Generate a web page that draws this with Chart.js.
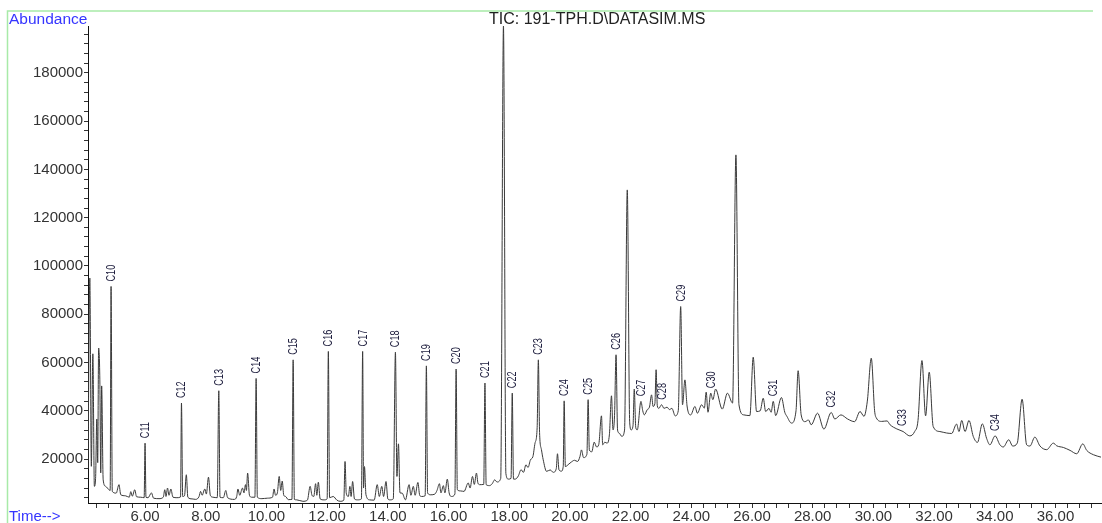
<!DOCTYPE html>
<html>
<head>
<meta charset="utf-8">
<script src="https://cdn.jsdelivr.net/npm/chart.js@4.4.1/dist/chart.umd.min.js"></script>
<style>
  html, body { margin: 0; padding: 0; background: #fff; }
  #wrap { width: 1102px; height: 523px; position: relative; }
</style>
</head>
<body>
<div id="wrap"><canvas id="ticChart"></canvas></div>
<script>
// TIC trace (time in min, abundance)
const retentionTime = [
  4.12, 4.18, 4.23, 4.28, 4.33, 4.37, 4.41, 4.44, 4.47, 4.51,
  4.54, 4.57, 4.62, 4.70, 4.81, 4.85, 4.88, 4.92, 5.05, 5.14,
  5.20, 5.35, 5.48, 5.53, 5.58, 5.66, 5.72, 5.86, 5.97, 6.00,
  6.03, 6.10, 6.21, 6.28, 6.46, 6.60, 6.65, 6.69, 6.74, 6.79,
  6.85, 6.92, 7.05, 7.17, 7.20, 7.24, 7.30, 7.36, 7.41, 7.55,
  7.67, 7.78, 7.83, 7.88, 7.97, 8.02, 8.09, 8.15, 8.24, 8.38,
  8.43, 8.47, 8.58, 8.66, 8.72, 8.94, 9.02, 9.06, 9.12, 9.21,
  9.26, 9.31, 9.34, 9.38, 9.44, 9.51, 9.62, 9.66, 9.70, 9.85,
  10.03, 10.20, 10.25, 10.30, 10.36, 10.42, 10.47, 10.52, 10.57, 10.63,
  10.72, 10.84, 10.88, 10.92, 11.00, 11.20, 11.35, 11.44, 11.50, 11.56,
  11.62, 11.66, 11.71, 11.77, 11.90, 12.00, 12.04, 12.08, 12.20, 12.32,
  12.43, 12.55, 12.59, 12.63, 12.70, 12.75, 12.79, 12.84, 12.90, 13.00,
  13.13, 13.17, 13.20, 13.23, 13.28, 13.40, 13.55, 13.65, 13.72, 13.80,
  13.86, 13.94, 14.00, 14.07, 14.18, 14.25, 14.30, 14.35, 14.40, 14.47,
  14.58, 14.70, 14.76, 14.84, 14.90, 14.99, 15.05, 15.11, 15.23, 15.27,
  15.31, 15.42, 15.55, 15.62, 15.70, 15.75, 15.83, 15.88, 15.96, 16.02,
  16.10, 16.21, 16.25, 16.29, 16.40, 16.51, 16.65, 16.71, 16.79, 16.85,
  16.92, 16.97, 17.03, 17.16, 17.20, 17.24, 17.35, 17.44, 17.52, 17.60,
  17.72, 17.81, 17.89, 17.97, 18.06, 18.10, 18.14, 18.20, 18.30, 18.39,
  18.47, 18.55, 18.62, 18.70, 18.78, 18.85, 18.92, 18.96, 19.00, 19.06,
  19.12, 19.23, 19.35, 19.45, 19.55, 19.59, 19.64, 19.72, 19.78, 19.81,
  19.85, 19.97, 20.05, 20.15, 20.25, 20.33, 20.38, 20.45, 20.56, 20.60,
  20.64, 20.72, 20.80, 20.88, 20.95, 21.04, 21.08, 21.15, 21.22, 21.30,
  21.37, 21.42, 21.47, 21.52, 21.57, 21.62, 21.71, 21.80, 21.89, 21.97,
  22.02, 22.08, 22.12, 22.17, 22.22, 22.34, 22.40, 22.45, 22.55, 22.62,
  22.69, 22.74, 22.80, 22.84, 22.88, 22.93, 23.02, 23.10, 23.20, 23.28,
  23.36, 23.47, 23.57, 23.65, 23.71, 23.79, 23.86, 23.98, 24.12, 24.20,
  24.34, 24.43, 24.49, 24.55, 24.64, 24.71, 24.80, 25.02, 25.19, 25.36,
  25.47, 25.57, 25.73, 25.93, 26.04, 26.15, 26.27, 26.37, 26.45, 26.56,
  26.63, 26.70, 26.78, 26.97, 27.08, 27.15, 27.30, 27.45, 27.52, 27.62,
  27.75, 27.86, 27.95, 28.16, 28.37, 28.61, 28.73, 28.93, 29.15, 29.38,
  29.56, 29.69, 29.80, 29.93, 30.04, 30.10, 30.27, 30.45, 30.55, 30.77,
  30.98, 31.20, 31.36, 31.47, 31.60, 31.72, 31.84, 31.97, 32.19, 32.41,
  32.58, 32.74, 32.82, 32.91, 33.02, 33.15, 33.29, 33.43, 33.59, 33.73,
  33.84, 34.01, 34.17, 34.28, 34.46, 34.59, 34.74, 34.90, 35.05, 35.16,
  35.32, 35.49, 35.71, 35.93, 36.04, 36.26, 36.48, 36.70, 36.90, 37.03,
  37.25, 37.50
];
const abundance = [
  16000, 95000, 17000, 63600, 8700, 12000, 36600, 18500, 66000, 52800,
  14300, 50300, 11400, 8700, 7300, 7000, 91500, 6600, 5900, 9400,
  5200, 4800, 4200, 6500, 4600, 7300, 4400, 4200, 4000, 26600,
  4200, 4000, 6000, 3800, 3600, 4200, 7300, 4500, 8000, 5000,
  7600, 4200, 4000, 4300, 43200, 4500, 4800, 13500, 4200, 3500,
  3300, 4500, 6600, 5000, 7600, 5500, 12500, 5000, 4200, 4000,
  48300, 4200, 4000, 7000, 4000, 3300, 4500, 7600, 5000, 8000,
  6000, 9400, 7000, 14200, 5000, 4200, 4200, 53400, 4200, 3600,
  3800, 4200, 7600, 5000, 6000, 12800, 7000, 10900, 5000, 4500,
  3200, 3300, 61100, 3300, 3100, 2500, 3000, 8700, 5000, 4500,
  9800, 5000, 10400, 3500, 3100, 3500, 64600, 4000, 4500, 3000,
  2500, 3000, 19000, 5900, 4500, 8700, 4500, 10700, 3500, 3100,
  3500, 64600, 8000, 16900, 5200, 3100, 3000, 9400, 4500, 8700,
  4500, 10700, 3500, 3100, 3500, 64300, 12800, 26300, 6000, 5900,
  3100, 9400, 5000, 8700, 5000, 10300, 5000, 4500, 4800, 58600,
  5900, 5200, 5500, 7000, 9800, 6000, 9000, 6000, 11700, 6000,
  4500, 5500, 57300, 7300, 6800, 6600, 10100, 8000, 12800, 9500,
  14200, 10000, 9400, 9500, 51500, 9400, 9000, 9800, 11400, 10500,
  12000, 199400, 14000, 11700, 12000, 47300, 11700, 11700, 13000, 15600,
  14500, 17600, 16500, 19700, 21000, 26600, 33000, 61100, 31000, 24000,
  19700, 14900, 15500, 14500, 16000, 22200, 15500, 15000, 17000, 44100,
  16900, 18000, 18800, 19500, 19000, 21000, 23800, 20600, 22000, 44600,
  23800, 23000, 27000, 25000, 26000, 37900, 25900, 27000, 26600, 30000,
  46200, 32100, 38000, 63200, 32000, 30800, 29400, 32000, 131500, 35000,
  32100, 34000, 49000, 33000, 32100, 43900, 40000, 38300, 40500, 41500,
  46600, 41800, 43000, 57000, 42000, 41000, 42500, 41000, 41500, 40500,
  41000, 37900, 40000, 83200, 42500, 52800, 42000, 38300, 41800, 39000,
  42500, 41100, 47700, 39400, 47300, 44600, 49000, 40700, 47300, 43200,
  146000, 42500, 38300, 38000, 62200, 39700, 40000, 45200, 39700, 41000,
  39400, 43900, 38000, 45500, 39400, 37700, 34900, 40000, 56600, 38300,
  35500, 36200, 34200, 39000, 32400, 39300, 36600, 38300, 36600, 35500,
  39700, 37700, 44000, 61800, 40000, 37000, 35600, 35800, 34200, 32500,
  31400, 29600, 31400, 36000, 60800, 37900, 56000, 33500, 31400, 30800,
  30600, 34500, 31400, 36000, 31400, 36000, 29400, 26900, 34600, 28600,
  25900, 29600, 25900, 25000, 28000, 25400, 26600, 44800, 25900, 25400,
  29100, 25400, 23900, 26600, 25500, 24800, 23600, 22200, 26300, 23600,
  21800, 20800
];

// n-alkane labels and where they sit
const peakNames = ['C10', 'C11', 'C12', 'C13', 'C14', 'C15', 'C16', 'C17', 'C18', 'C19', 'C20', 'C21', 'C22',
  'C23', 'C24', 'C25', 'C26', 'C27', 'C28', 'C29', 'C30', 'C31', 'C32', 'C33', 'C34'];
const peakTimes = [4.88, 6.00, 7.20, 8.43, 9.66, 10.88, 12.04, 13.17, 14.25, 15.27, 16.25, 17.20, 18.10,
  18.96, 19.81, 20.60, 21.52, 22.34, 23.02, 23.65, 24.64, 26.70, 28.61, 30.93, 34.01];

// axis labels
const timeTickLabels = [6, 8, 10, 12, 14, 16, 18, 20, 22, 24, 26, 28, 30, 32, 34, 36];
const abundanceTickLabels = [20000, 40000, 60000, 80000, 100000, 120000, 140000, 160000, 180000];

const FONT = '"Liberation Sans", Arial, sans-serif';

function abundanceAt(t) {
  for (let i = 0; i < retentionTime.length - 1; i++) {
    const a = retentionTime[i], b = retentionTime[i + 1];
    if (t >= a && t <= b) {
      const f = (t - a) / (b - a);
      return abundance[i] + f * (abundance[i + 1] - abundance[i]);
    }
  }
  return abundance[abundance.length - 1];
}

const decorPlugin = {
  id: 'decor',
  beforeDraw(chart) {
    const ctx = chart.ctx;
    ctx.save();
    ctx.fillStyle = '#fff';
    ctx.fillRect(0, 0, chart.width, chart.height);
    // light green frame (top + left)
    ctx.strokeStyle = '#a8eaa8';
    ctx.lineWidth = 1.5;
    ctx.beginPath();
    ctx.moveTo(7.5, chart.height);
    ctx.lineTo(7.5, 11);
    ctx.lineTo(1093, 11);
    ctx.stroke();
    ctx.restore();
  },
  afterDraw(chart) {
    const ctx = chart.ctx;
    const xs = chart.scales.x, ys = chart.scales.y;
    ctx.save();
    ctx.textBaseline = 'alphabetic';
    ctx.textAlign = 'left';
    ctx.fillStyle = '#3535ff';
    ctx.font = '15.5px ' + FONT;
    ctx.fillText('Abundance', 9, 23.5);
    ctx.font = '15px ' + FONT;
    ctx.fillText('Time-->', 9, 521);
    ctx.fillStyle = '#222';
    ctx.font = '16px ' + FONT;
    ctx.fillText('TIC: 191-TPH.D\\DATASIM.MS', 489, 24);

    // rotated peak labels
    ctx.fillStyle = '#1c1c3c';
    ctx.font = '12.5px ' + FONT;
    ctx.textBaseline = 'middle';
    peakNames.forEach((name, i) => {
      const t = peakTimes[i];
      const px = xs.getPixelForValue(t);
      const py = ys.getPixelForValue(abundanceAt(t)) - 5;
      ctx.save();
      ctx.translate(px, py);
      ctx.rotate(-Math.PI / 2);
      ctx.scale(0.73, 1);
      ctx.fillText(name, 0, 0.5);
      ctx.restore();
    });
    ctx.restore();
  }
};

const ctx = document.getElementById('ticChart').getContext('2d');
new Chart(ctx, {
  type: 'line',
  data: {
    datasets: [{
      label: 'TIC',
      data: retentionTime.map((t, i) => ({ x: t, y: abundance[i] })),
      borderColor: '#3a3a3a',
      borderWidth: 1,
      pointRadius: 0,
      cubicInterpolationMode: 'monotone',
      fill: false
    }]
  },
  options: {
    responsive: true,
    maintainAspectRatio: false,
    devicePixelRatio: 1,
    animation: false,
    events: [],
    layout: { padding: { left: 0, top: 26, right: 1, bottom: 0 } },
    plugins: {
      legend: { display: false },
      tooltip: { enabled: false }
    },
    scales: {
      x: {
        type: 'linear',
        min: 4.12,
        max: 37.5,
        afterFit: (s) => { s.height = 20; },
        afterBuildTicks: (s) => {
          const ticks = [];
          for (let k = 11; k <= 93; k++) ticks.push({ value: Math.round(k * 4) / 10 });
          s.ticks = ticks;
        },
        ticks: {
          autoSkip: false,
          maxRotation: 0,
          padding: 0,
          color: '#333',
          font: { family: FONT, size: 15 },
          callback: (v) => timeTickLabels.some(l => Math.abs(l - v) < 1e-6) ? v.toFixed(2) : ''
        },
        grid: { drawOnChartArea: false, drawTicks: true, tickLength: 5, color: '#333' },
        border: { display: true, color: '#111', width: 1 }
      },
      y: {
        min: 1800,
        max: 199400,
        afterFit: (s) => { s.width = 88; },
        afterBuildTicks: (s) => {
          const ticks = [];
          for (let v = 4000; v <= 196000; v += 4000) ticks.push({ value: v });
          s.ticks = ticks;
        },
        ticks: {
          autoSkip: false,
          padding: 1,
          color: '#333',
          font: { family: FONT, size: 15 },
          callback: (v) => abundanceTickLabels.includes(v) ? String(v) : ''
        },
        grid: { drawOnChartArea: false, drawTicks: true, tickLength: 4, color: '#333' },
        border: { display: true, color: '#111', width: 1 }
      }
    }
  },
  plugins: [decorPlugin]
});
</script>
</body>
</html>
